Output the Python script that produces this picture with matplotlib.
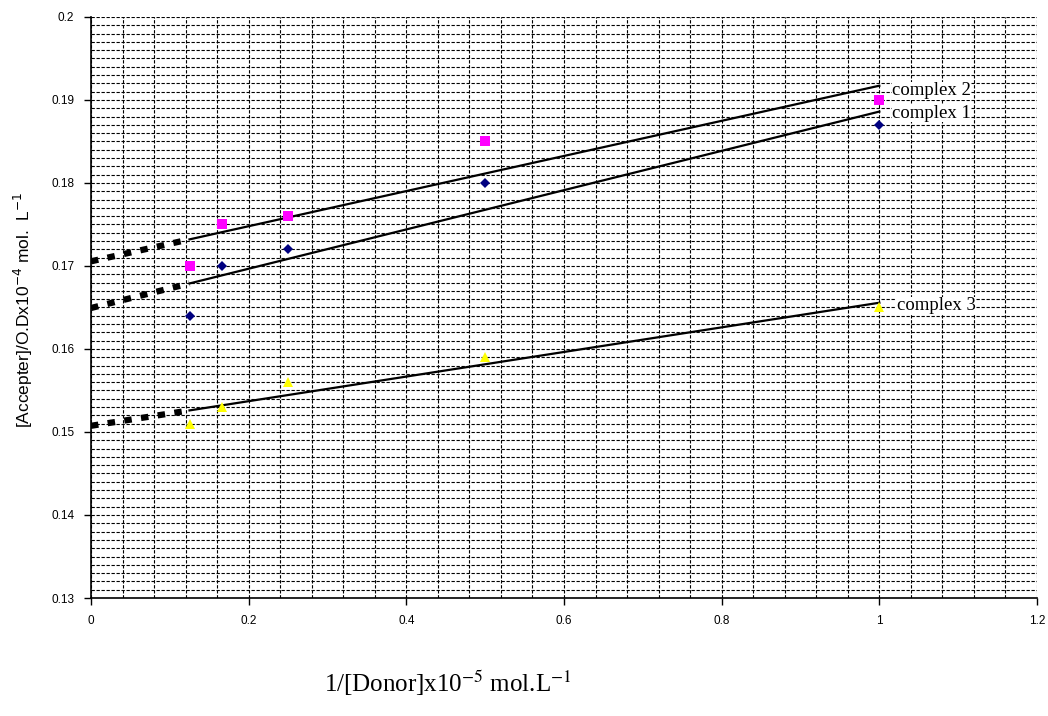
import matplotlib.pyplot as plt
import numpy as np
from matplotlib.ticker import MultipleLocator

# 1/[Donor] values (x10^-5 mol/L)
inv_donor = [0.125, 0.1667, 0.25, 0.5, 1.0]

complex1 = [0.164, 0.170, 0.172, 0.180, 0.187]
complex2 = [0.170, 0.175, 0.176, 0.185, 0.190]
complex3 = [0.151, 0.153, 0.156, 0.159, 0.165]

names = ['complex 1', 'complex 2', 'complex 3']
series = [complex1, complex2, complex3]
markers = ['D', 's', '^']
colors = ['#000080', '#FF00FF', '#FFFF00']
msizes = [5, 7, 7.5]


def plot(name_archivo):
    fig = plt.figure(figsize=(10.48, 7.16), dpi=100)
    ax = fig.add_axes([0.0868, 0.1648, 0.9027, 0.8115])

    x = np.array(inv_donor)
    for name, y, m, c, ms in zip(names, series, markers, colors, msizes):
        ax.plot(x, y, linestyle='none', marker=m, color=c, markersize=ms,
                markeredgewidth=0, zorder=4)
        # linear trendline, extrapolated back to x=0
        slope, icpt = np.polyfit(x, y, 1)
        xs = np.array([x.min(), x.max()])
        ax.plot(xs, slope * xs + icpt, color='black', lw=1.6, zorder=3)
        xe = np.array([0, x.min()])
        ax.plot(xe, slope * xe + icpt, color='black', lw=4.5,
                linestyle=(0, (1.2, 1.5)), zorder=3)

    lab_style = dict(fontsize=13.5, family='Liberation Serif', va='center',
                     ha='left', zorder=5,
                     bbox=dict(facecolor='white', edgecolor='none', pad=0.3))
    ax.text(1.016, 0.1911, 'complex 2', **lab_style)
    ax.text(1.016, 0.1884, 'complex 1', **lab_style)
    ax.text(1.022, 0.1652, 'complex 3', **lab_style)

    ax.set_xlim(0, 1.2)
    ax.set_ylim(0.13, 0.2)
    ax.xaxis.set_minor_locator(MultipleLocator(0.04))
    ax.yaxis.set_minor_locator(MultipleLocator(0.001))
    ax.set_xticks(np.arange(0, 1.21, 0.2))
    ax.set_xticklabels(['0', '0.2', '0.4', '0.6', '0.8', '1', '1.2'])
    ax.set_yticks(np.arange(0.13, 0.2001, 0.01))
    ax.set_yticklabels(['0.13', '0.14', '0.15', '0.16', '0.17', '0.18',
                        '0.19', '0.2'])

    ax.grid(True, which='both', color='black', linestyle=(0, (3, 1.5)),
            linewidth=0.8)
    ax.set_axisbelow(True)
    ax.tick_params(which='minor', length=0)
    ax.tick_params(which='major', direction='out', length=5, width=1,
                   labelsize=8.5, pad=7)
    for lbl in ax.get_xticklabels() + ax.get_yticklabels():
        lbl.set_family('Liberation Sans')
    ax.spines['top'].set_visible(False)
    ax.spines['right'].set_visible(False)
    ax.spines['left'].set_linewidth(1.2)
    ax.spines['bottom'].set_linewidth(1.2)

    fig.text(0.022, 0.567, '[Accepter]/O.Dx10$^{-4}$ mol.  L$^{-1}$',
             fontsize=12.5, family='Liberation Sans', rotation=90,
             ha='center', va='center')
    fig.text(0.427, 0.046, '1/[Donor]x10$^{-5}$ mol.L$^{-1}$', fontsize=18,
             family='Liberation Serif', ha='center', va='center',
             math_fontfamily='stix')

    plt.savefig(name_archivo, dpi=100)


if __name__ == '__main__':
    plot('out.png')
